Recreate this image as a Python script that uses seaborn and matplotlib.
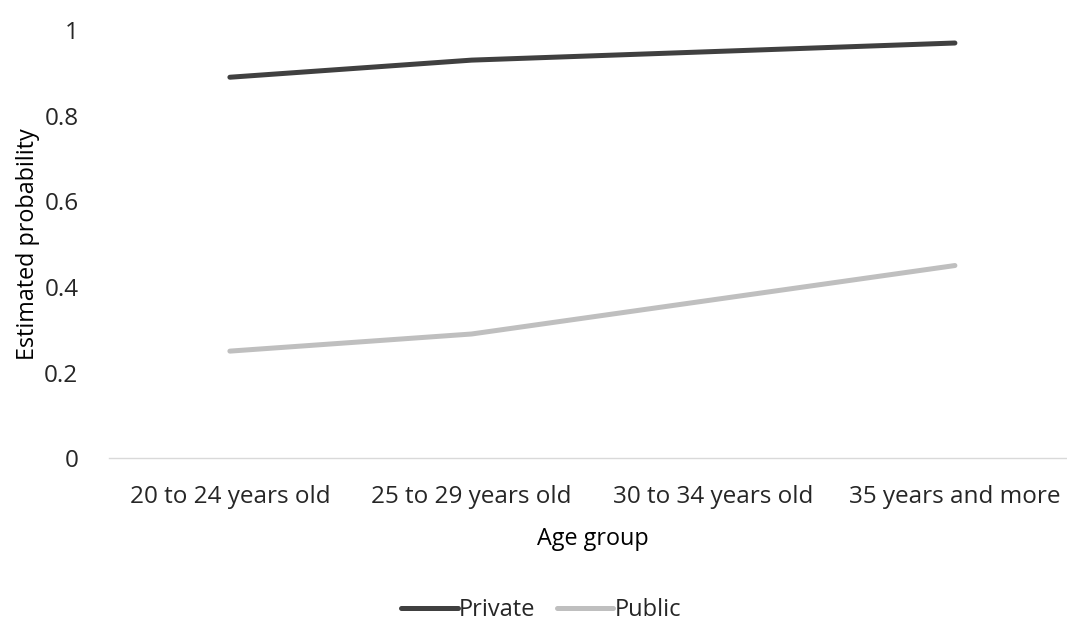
import matplotlib
matplotlib.use("Agg")
import matplotlib.pyplot as plt
import seaborn as sns
import pandas as pd

age_groups = ["20 to 24 years old", "25 to 29 years old", "30 to 34 years old", "35 years and more"]
private = [0.89, 0.93, 0.95, 0.97]
public = [0.25, 0.29, 0.37, 0.45]
y_ticks = [0, 0.2, 0.4, 0.6, 0.8, 1]
y_tick_labels = ["0", "0.2", "0.4", "0.6", "0.8", "1"]

df = pd.DataFrame({
    "Age group": age_groups * 2,
    "Estimated probability": private + public,
    "Sector": ["Private"] * 4 + ["Public"] * 4,
})

sns.set_theme(style="white")
plt.rcParams["font.family"] = ["Open Sans", "DejaVu Sans"]

fig = plt.figure(figsize=(10.67, 6.22), dpi=100)
ax = fig.add_axes([0.1022, 0.2635, 0.906, 0.688])

sns.lineplot(data=df, x="Age group", y="Estimated probability", hue="Sector",
             palette={"Private": "#404040", "Public": "#bfbfbf"},
             linewidth=3.6, ax=ax, legend=False, sort=False)
for ln in ax.lines:
    ln.set_solid_capstyle("round")
    ln.set_solid_joinstyle("round")

ax.set_xlim(-0.5, 3.5)
ax.set_ylim(0, 1)
ax.set_yticks(y_ticks)
ax.set_yticklabels(y_tick_labels)
for s in ["top", "right", "left"]:
    ax.spines[s].set_visible(False)
ax.spines["bottom"].set_color("#d9d9d9")
ax.spines["bottom"].set_linewidth(1.0)
ax.tick_params(axis="both", length=0, labelsize=17.5, labelcolor="#262626")
ax.tick_params(axis="x", pad=19.5)
ax.tick_params(axis="y", pad=22)
ax.set_xlabel("Age group", fontsize=16.8, color="black", labelpad=13)
ax.set_ylabel("Estimated probability", fontsize=16.8, color="black", labelpad=3)

handles = [plt.Line2D([], [], color="#404040", lw=3.6, solid_capstyle="round"),
           plt.Line2D([], [], color="#bfbfbf", lw=3.6, solid_capstyle="round")]
fig.legend(handles, ["Private", "Public"], loc="center", bbox_to_anchor=(0.507, 0.019),
           ncol=2, frameon=False, fontsize=17, handlelength=2.4, handletextpad=0.05,
           columnspacing=0.9, labelcolor="#262626")

fig.savefig("out.png", dpi=100)
